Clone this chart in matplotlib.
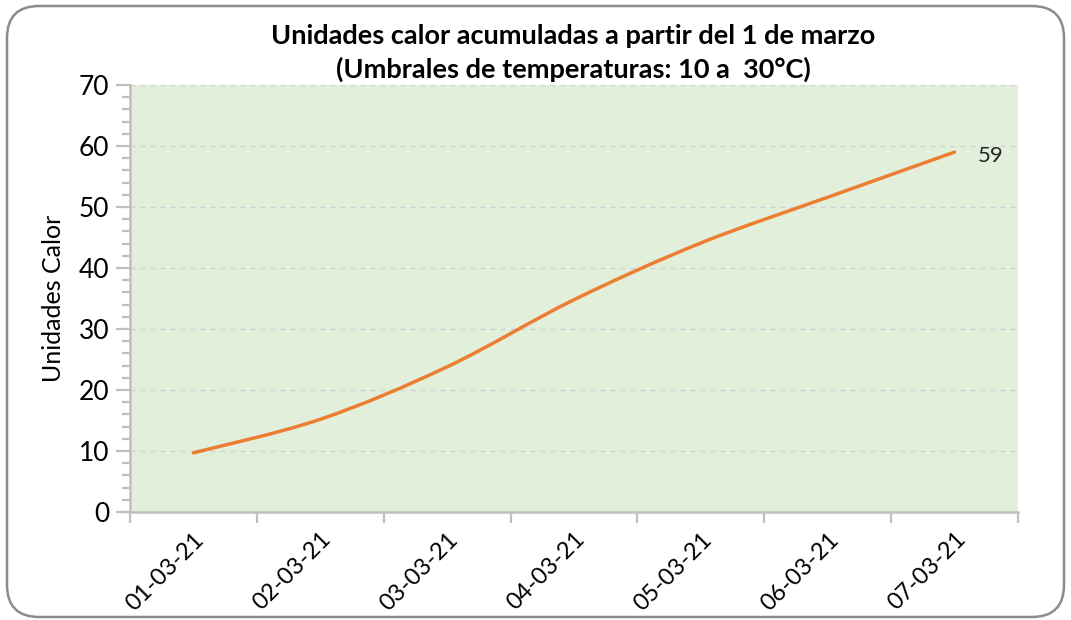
import numpy as np
import matplotlib
matplotlib.use("Agg")
import matplotlib.pyplot as plt
from matplotlib.path import Path
from matplotlib.patches import PathPatch, FancyBboxPatch
from matplotlib.ticker import MultipleLocator, FixedLocator

plt.rcParams['font.family'] = ['Lato', 'DejaVu Sans']

#Data
fechas = ["01-03-21", "02-03-21", "03-03-21", "04-03-21", "05-03-21", "06-03-21", "07-03-21"]
unidades_calor = [9.7, 15.2, 23.8, 34.8, 44.1, 51.6, 59.0]

titulo = "Unidades calor acumuladas a partir del 1 de marzo\n(Umbrales de temperaturas: 10 a  30°C)"


#Smoothed line like excel (bezier between points)
def smooth_path(x, y):
	pts = np.column_stack([x, y])
	n = len(pts)
	verts = [pts[0]]
	codes = [Path.MOVETO]
	for i in range(n - 1):
		p0 = pts[i - 1] if i > 0 else pts[i]
		p1 = pts[i]
		p2 = pts[i + 1]
		p3 = pts[i + 2] if i + 2 < n else pts[i + 1]
		c1 = p1 + (p2 - p0) / 6
		c2 = p2 - (p3 - p1) / 6
		verts += [c1, c2, p2]
		codes += [Path.CURVE4] * 3
	return Path(verts, codes)


fig = plt.figure(figsize=(10.71, 6.2), dpi=100)

#Chart border
border = FancyBboxPatch((7 / 1071, 1 - 617 / 620), 1057 / 1071, 611 / 620,
	boxstyle="round,pad=0,rounding_size=0.03", transform=fig.transFigure,
	facecolor="none", edgecolor="#8c8c8c", linewidth=1.8, mutation_aspect=1071 / 620)
fig.patches.append(border)

ax = fig.add_axes([130 / 1071, 1 - 512 / 620, 888 / 1071, 427 / 620])
ax.set_facecolor("#E2EFDA")

x = np.arange(len(fechas))
line = PathPatch(smooth_path(x, unidades_calor), facecolor="none", edgecolor="#ED7D31",
	linewidth=2.5, capstyle="round")
ax.add_patch(line)

ax.set_xlim(-0.5, len(fechas) - 0.5)
ax.set_ylim(0, 70)

ax.annotate(f"{unidades_calor[-1]:.0f}", (x[-1], unidades_calor[-1]), xytext=(17, -3),
	textcoords="offset points", fontsize=16, color="#262626", va="center", ha="left")

#Grid
ax.yaxis.set_major_locator(MultipleLocator(10))
ax.yaxis.set_minor_locator(MultipleLocator(2))
ax.grid(axis="y", which="major", color="#D0D0DC", linestyle=(0, (4, 4)), linewidth=0.9)
ax.set_axisbelow(True)

#Ticks
ax.xaxis.set_major_locator(FixedLocator(np.arange(-0.5, len(fechas), 1)))
ax.xaxis.set_major_formatter(plt.NullFormatter())
ax.set_xticks(x, minor=True)
ax.set_xticklabels(fechas, minor=True, rotation=45, ha="right", va="top",
	rotation_mode="anchor", fontsize=17)
ax.tick_params(axis="x", which="minor", length=0, pad=12)
ax.tick_params(axis="x", which="major", length=8, width=1.6, color="#BFBFBF")
ax.tick_params(axis="y", which="major", length=10, width=1.6, color="#BFBFBF", labelsize=19, pad=5)
ax.tick_params(axis="y", which="minor", length=6, width=1.6, color="#BFBFBF")

for s in ["top", "right"]:
	ax.spines[s].set_visible(False)
for s in ["left", "bottom"]:
	ax.spines[s].set_color("#BFBFBF")
	ax.spines[s].set_linewidth(1.8)

ax.set_ylabel("Unidades Calor", fontsize=18, labelpad=10)
fig.text(573 / 1071, 1 - 53 / 620, titulo, ha="center", va="center", fontsize=19.5,
	fontweight="bold", linespacing=1.4)

fig.savefig("out.png", dpi=100)
